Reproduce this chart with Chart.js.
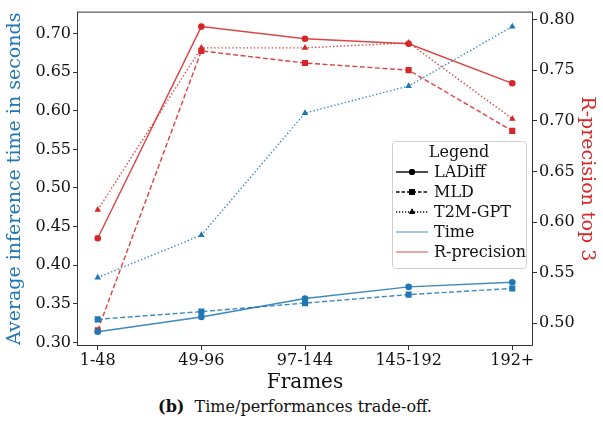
<!DOCTYPE html>
<html>
<head>
<meta charset="utf-8">
<script src="https://cdn.jsdelivr.net/npm/chart.js@4.4.0/dist/chart.umd.min.js"></script>
<style>
  html, body { margin: 0; padding: 0; background: #fff; }
  #wrap { position: relative; width: 603px; height: 395px; }
  #caption {
    position: absolute; left: 0; top: 397px;
    width: 590px; text-align: center;
    font-family: "DejaVu Serif", serif; font-size: 16px; color: #111;
  }
</style>
</head>
<body>
<div id="wrap"><canvas id="chart"></canvas></div>
<div id="caption"><b>(b)</b>&nbsp; Time/performances trade-off.</div>
<script>
// categories
const frameLabels = ['1-48', '49-96', '97-144', '145-192', '192+'];

// average inference time (left axis)
const timeLADiff = [0.314, 0.333, 0.357, 0.372, 0.378];
const timeMLD    = [0.330, 0.340, 0.351, 0.362, 0.370];
const timeT2M    = [0.384, 0.439, 0.597, 0.632, 0.709];

// R-precision top 3 (right axis)
const rprecLADiff = [0.584, 0.793, 0.781, 0.776, 0.737];
const rprecMLD    = [0.493, 0.769, 0.757, 0.750, 0.690];
const rprecT2M    = [0.612, 0.772, 0.772, 0.777, 0.702];

// tick labels
const timeTicks  = [0.30, 0.35, 0.40, 0.45, 0.50, 0.55, 0.60, 0.65, 0.70];
const rprecTicks = [0.50, 0.55, 0.60, 0.65, 0.70, 0.75, 0.80];

const BLUE = '#1f77b4';
const RED = '#d62728';
const SERIF = "'DejaVu Serif', serif";

function pts(arr) {
    return arr.map((v, i) => ({ x: i, y: v }));
}

function series(label, values, color, axis, style, dash, radius) {
    return {
        label: label,
        data: pts(values),
        yAxisID: axis,
        borderColor: color + 'dd',
        backgroundColor: color,
        pointBackgroundColor: color,
        pointBorderColor: color,
        pointBorderWidth: 0,
        pointStyle: style,
        pointRadius: radius,
        pointHoverRadius: radius,
        borderWidth: 1.4,
        borderDash: dash,
        tension: 0,
        fill: false
    };
}

const DASHED = [5, 2.5];
const DOTTED = [1.4, 2.2];

const datasets = [
    series('LADiff time', timeLADiff, BLUE, 'yTime', 'circle', [], 3.3),
    series('MLD time', timeMLD, BLUE, 'yTime', 'rect', DASHED, 4.3),
    series('T2M-GPT time', timeT2M, BLUE, 'yTime', 'triangle', DOTTED, 3.8),
    series('LADiff R', rprecLADiff, RED, 'yR', 'circle', [], 3.3),
    series('MLD R', rprecMLD, RED, 'yR', 'rect', DASHED, 4.3),
    series('T2M-GPT R', rprecT2M, RED, 'yR', 'triangle', DOTTED, 3.8)
];

// frame + in-plot legend like matplotlib
const framePlugin = {
    id: 'frame',
    afterDraw(chart) {
        const ctx = chart.ctx;
        const a = chart.chartArea;
        ctx.save();
        ctx.strokeStyle = '#333';
        ctx.lineWidth = 1;
        ctx.strokeRect(a.left + 0.5, a.top + 0.5, a.right - a.left - 1, a.bottom - a.top - 1);

        // legend box
        const bx = 392, by = 141, bw = 134, bh = 127;
        ctx.fillStyle = 'rgba(255,255,255,0.85)';
        ctx.strokeStyle = '#d0d0d0';
        ctx.lineWidth = 1;
        ctx.beginPath();
        ctx.roundRect(bx + 0.5, by + 0.5, bw, bh, 3);
        ctx.fill();
        ctx.stroke();

        ctx.font = '16px ' + SERIF;
        ctx.fillStyle = '#111';
        ctx.textBaseline = 'middle';
        ctx.textAlign = 'center';
        ctx.fillText('Legend', bx + bw / 2, by + 12);

        const entries = [
            { text: 'LADiff', color: '#000', dash: [], style: 'circle', r: 3 },
            { text: 'MLD', color: '#000', dash: [3.5, 2], style: 'rect', r: 4 },
            { text: 'T2M-GPT', color: '#000', dash: [1.2, 1.8], style: 'triangle', r: 3.5 },
            { text: 'Time', color: BLUE + '99', dash: [], style: null },
            { text: 'R-precision', color: RED + '99', dash: [], style: null }
        ];
        const x0 = bx + 4, x1 = bx + 36;
        ctx.textAlign = 'left';
        entries.forEach((e, i) => {
            const y = by + 31 + i * 20;
            ctx.strokeStyle = e.color;
            ctx.lineWidth = 1.4;
            ctx.setLineDash(e.dash);
            ctx.beginPath();
            ctx.moveTo(x0, y);
            ctx.lineTo(x1, y);
            ctx.stroke();
            ctx.setLineDash([]);
            if (e.style) {
                ctx.fillStyle = '#000';
                Chart.helpers.drawPoint(ctx, { pointStyle: e.style, radius: e.r, borderWidth: 0 }, (x0 + x1) / 2, y);
                ctx.fill();
            }
            ctx.fillStyle = '#111';
            ctx.fillText(e.text, bx + 42, y + 1);
        });
        ctx.restore();
    }
};

new Chart(document.getElementById('chart'), {
    type: 'line',
    data: { datasets: datasets },
    options: {
        responsive: true,
        maintainAspectRatio: false,
        animation: false,
        layout: { padding: { top: 7, left: 0, right: 0, bottom: 0 } },
        plugins: {
            legend: { display: false },
            tooltip: { enabled: false }
        },
        scales: {
            x: {
                type: 'linear',
                min: -0.2,
                max: 4.2,
                afterBuildTicks: (scale) => {
                    scale.ticks = frameLabels.map((_, i) => ({ value: i }));
                },
                afterFit: (scale) => { scale.height = 49; },
                ticks: {
                    callback: (v) => frameLabels[v],
                    color: '#111',
                    font: { family: SERIF, size: 16 },
                    padding: 1,
                    maxRotation: 0,
                    autoSkip: false
                },
                grid: { drawOnChartArea: false, tickLength: 4, tickColor: '#333' },
                border: { display: false },
                title: {
                    display: true,
                    text: 'Frames',
                    color: '#111',
                    font: { family: SERIF, size: 20 },
                    padding: { top: 0, bottom: 0 }
                }
            },
            yTime: {
                type: 'linear',
                position: 'left',
                min: 0.2955,
                max: 0.7283,
                afterBuildTicks: (scale) => {
                    scale.ticks = timeTicks.map(v => ({ value: v }));
                },
                afterFit: (scale) => { scale.width = 77; },
                ticks: {
                    callback: (v) => v.toFixed(2),
                    color: '#111',
                    font: { family: SERIF, size: 16 },
                    padding: 2
                },
                grid: { drawOnChartArea: false, tickLength: 4, tickColor: '#333' },
                border: { display: false },
                title: {
                    display: true,
                    text: 'Average inference time in seconds',
                    color: BLUE,
                    font: { family: SERIF, size: 19 },
                    padding: { top: 4, bottom: 0 }
                }
            },
            yR: {
                type: 'linear',
                position: 'right',
                min: 0.4776,
                max: 0.8078,
                afterBuildTicks: (scale) => {
                    scale.ticks = rprecTicks.map(v => ({ value: v }));
                },
                afterFit: (scale) => { scale.width = 70; },
                ticks: {
                    callback: (v) => v.toFixed(2),
                    color: '#111',
                    font: { family: SERIF, size: 16 },
                    padding: 2
                },
                grid: { drawOnChartArea: false, tickLength: 4, tickColor: '#333' },
                border: { display: false },
                title: {
                    display: true,
                    text: 'R-precision top 3',
                    color: RED,
                    font: { family: SERIF, size: 19 },
                    padding: { top: 5, bottom: 0 }
                }
            }
        }
    },
    plugins: [framePlugin]
});
</script>
</body>
</html>
